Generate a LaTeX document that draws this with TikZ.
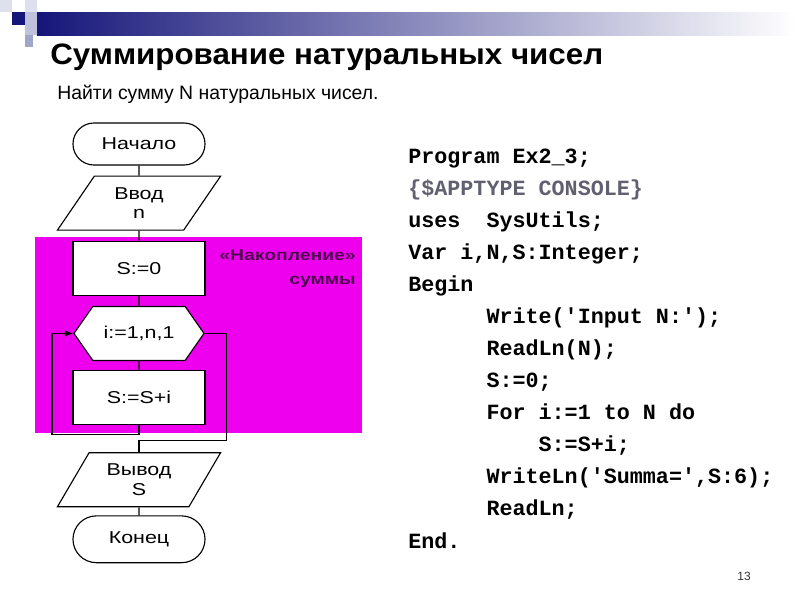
\documentclass[tikz,border=0pt]{standalone}
\usepackage{fontspec}
\setmainfont{Liberation Sans}
\newfontfamily\titlefont[FakeStretch=1.06]{Liberation Sans}
\newfontfamily\chartfont[FakeStretch=1.25]{Liberation Sans}
\newfontfamily\codefont[Ligatures=TeXOff]{Liberation Mono}
\usetikzlibrary{positioning,arrows.meta}
\usetikzlibrary{shapes.geometric,shapes.misc,shapes.symbols}

\definecolor{barblue}{RGB}{22,22,122}
\definecolor{sqlight}{RGB}{222,224,238}
\definecolor{sqmid}{RGB}{190,194,220}
\definecolor{sqdark}{RGB}{160,166,200}
\definecolor{accum}{RGB}{238,0,238}
\definecolor{accumtext}{RGB}{80,0,80}
\definecolor{dircolor}{RGB}{96,96,112}

\tikzset{
  chart/.style={draw, fill=white, inner sep=0pt, line width=0.8pt,
    font=\chartfont\fontsize{12.2}{14}\selectfont, align=center},
  term/.style={chart, rounded rectangle, minimum width=3.3cm, minimum height=1.05cm},
  io/.style={chart, trapezium, trapezium left angle=57, trapezium right angle=123,
    trapezium stretches=true, minimum width=4.1cm, minimum height=1.35cm},
  proc/.style={chart, rectangle, minimum width=3.3cm, minimum height=1.35cm},
  loophead/.style={chart, signal, signal to=east and west, signal pointer angle=110,
    minimum width=3.25cm, minimum height=1.35cm},
  codeline/.style={anchor=base west, inner sep=0pt,
    font=\codefont\bfseries\fontsize{15.45}{18}\selectfont},
}

\begin{document}
\begin{tikzpicture}[x=0.025cm,y=-0.025cm,>={Latex[length=6pt,width=4.5pt]}]
  \useasboundingbox (0,0) rectangle (800,600);

  % header bar
  \shade[left color=barblue, right color=white] (37,12) rectangle (795,35);
  \fill[sqlight] (0,0) rectangle (12,12);
  \fill[barblue] (12,12) rectangle (25,25);
  \fill[sqlight] (25,0) rectangle (37,12);
  \fill[sqmid] (25,12) rectangle (37,35);
  \fill[sqdark] (25,35) rectangle (33,47);

  \node[anchor=base west, inner sep=0pt, font=\titlefont\bfseries\fontsize{21}{25}\selectfont] (title) at (50,64) {Суммирование натуральных чисел};
  \node[anchor=base west, inner sep=0pt, font=\fontsize{13.8}{17}\selectfont] (task) at (57,99.5) {Найти сумму N натуральных чисел.};

  % accumulation area
  \fill[accum] (35,237) rectangle (362,433);
  \node[anchor=north east, align=right, inner sep=0pt, text=accumtext,
    font=\chartfont\bfseries\fontsize{11}{17}\selectfont] (acc) at (356,250) {«Накопление»\\суммы};

  % flowchart
  \node[term] (start) at (139,144) {Начало};
  \node[io, below=0.25cm of start] (in) {Ввод\\n};
  \node[proc, below=0.25cm of in] (init) {S:=0};
  \node[loophead, below=0.25cm of init] (loop) {i:=1,n,1};
  \node[proc, below=0.225cm of loop] (body) {S:=S+i};
  \node[io, below=0.675cm of body] (out) {Вывод\\S};
  \node[term, minimum height=1.17cm, below=0.2cm of out] (stop) {Конец};

  \draw[line width=0.8pt] (start) -- (in);
  \draw[line width=0.8pt] (in) -- (init);
  \draw[line width=0.8pt] (init) -- (loop);
  \draw[line width=0.8pt] (loop) -- (body);
  \draw[line width=0.8pt,->] (body.south) |- ++(-87,9) |- (loop.west);
  \draw[line width=0.8pt] (loop.east) -| ++(22,107) -| (out.north);
  \draw[line width=0.8pt] (out) -- (stop);

  % program text
  \foreach \txt [count=\k] in {
    {Program Ex2\_3;},
    {\textcolor{dircolor}{\{\$APPTYPE CONSOLE\}}},
    {uses\phantom{00}SysUtils;},
    {Var i,N,S:Integer;},
    {Begin},
    {\phantom{000000}Write('Input N:');},
    {\phantom{000000}ReadLn(N);},
    {\phantom{000000}S:=0;},
    {\phantom{000000}For i:=1 to N do},
    {\phantom{0000000000}S:=S+i;},
    {\phantom{000000}WriteLn('Summa=',S:6);},
    {\phantom{000000}ReadLn;},
    {End.}}
    \node[codeline] (code\k) at (408,{163.3+32.06*(\k-1)}) {\txt};

  \node[font=\fontsize{8.5}{10}\selectfont, text=black!80] (page) at (744,576) {13};
\end{tikzpicture}
\end{document}
